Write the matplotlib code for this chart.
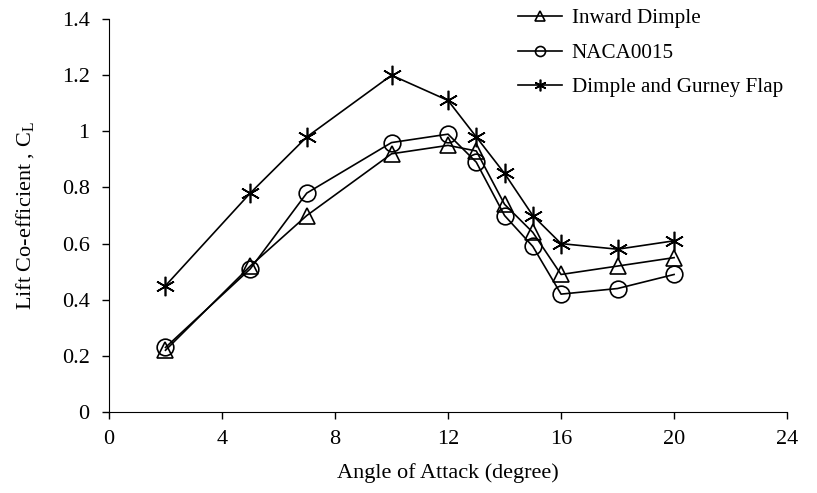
import matplotlib.pyplot as plt

plt.rcParams['font.family'] = ['Liberation Serif', 'DejaVu Serif']

aoa = [2, 5, 7, 10, 12, 13, 14, 15, 16, 18, 20]
inward_dimple = [0.22, 0.52, 0.70, 0.92, 0.95, 0.93, 0.74, 0.64, 0.49, 0.52, 0.55]
naca0015 = [0.23, 0.51, 0.78, 0.96, 0.99, 0.89, 0.70, 0.59, 0.42, 0.44, 0.49]
dimple_gurney = [0.45, 0.78, 0.98, 1.20, 1.11, 0.98, 0.85, 0.70, 0.60, 0.58, 0.61]

fig = plt.figure(figsize=(8.17, 4.93), dpi=100)
ax = fig.add_axes([0.1334, 0.1643, 0.83, 0.797])

ax.plot(aoa, inward_dimple, color='black', lw=1.2, marker='^', ms=12,
        mfc='none', mec='black', mew=1.2, label='Inward Dimple')
ax.plot(aoa, naca0015, color='black', lw=1.2, marker='o', ms=12,
        mfc='none', mec='black', mew=1.2, label='NACA0015')
ax.plot(aoa, dimple_gurney, color='black', lw=1.2, marker=(6, 2, 0), ms=14,
        mec='black', mew=1.2, label='Dimple and Gurney Flap')

ax.set_xlim(0, 24)
ax.set_ylim(0, 1.4)
ax.set_xticks(range(0, 25, 4))
ax.set_yticks([0, 0.2, 0.4, 0.6, 0.8, 1.0, 1.2, 1.4])
ax.set_yticklabels(['0', '0.2', '0.4', '0.6', '0.8', '1', '1.2', '1.4'])
ax.tick_params(direction='out', labelsize=16, length=5, width=1)
ax.tick_params(axis='x', pad=8)
ax.tick_params(axis='y', pad=9)
ax.spines['top'].set_visible(False)
ax.spines['right'].set_visible(False)

ax.set_xlabel('Angle of Attack (degree)', fontsize=16, labelpad=10)
ax.set_ylabel('Lift Co-efficient , C$_\\mathregular{L}$', fontsize=16, labelpad=18)

leg = ax.legend(loc='upper left', bbox_to_anchor=(0.575, 1.075), frameon=False,
                fontsize=15.2, handlelength=2.1, handletextpad=0.45,
                labelspacing=0.7, markerscale=0.6)

fig.savefig('out.png', dpi=100)
